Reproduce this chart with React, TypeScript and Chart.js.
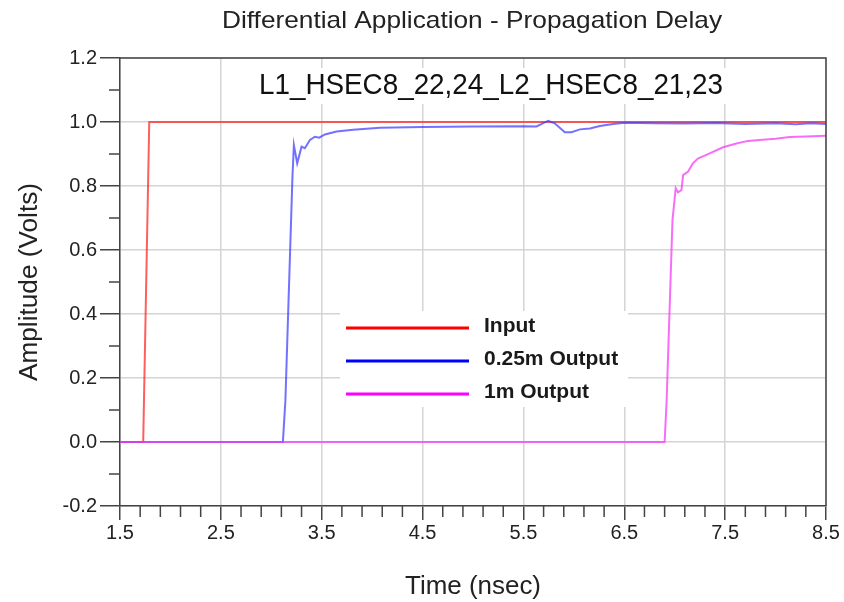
import React, { useEffect, useRef } from "react";
import { Chart, registerables } from "chart.js";

Chart.register(...registerables);

const titleText = "Differential Application - Propagation Delay";
const annotationText = "L1_HSEC8_22,24_L2_HSEC8_21,23";
const xAxisTitle = "Time (nsec)";
const yAxisTitle = "Amplitude (Volts)";

const seriesLabels = ["Input", "0.25m Output", "1m Output"];
const seriesColors = ["#ff0000", "#0000ff", "#ff00ff"];
const seriesLineColors = ["rgba(255,40,40,0.75)", "rgba(60,60,255,0.72)", "rgba(245,60,245,0.75)"];

const xTicks = [1.5, 2.5, 3.5, 4.5, 5.5, 6.5, 7.5, 8.5];
const yTicks = [-0.2, 0.0, 0.2, 0.4, 0.6, 0.8, 1.0, 1.2];

const inputTime = [1.5, 1.73, 1.79, 8.5];
const inputVolts = [0, 0, 1.0, 1.0];

const out025Time = [
  1.5, 3.115, 3.14, 3.21, 3.224, 3.257, 3.3, 3.333, 3.383, 3.432, 3.475, 3.532,
  3.647, 3.812, 4.077, 4.5, 5.0, 5.5, 5.63, 5.745, 5.81, 5.91, 5.977, 6.06, 6.16,
  6.257, 6.39, 6.505, 6.8, 7.1, 7.4, 7.7, 8.0, 8.2, 8.35, 8.5,
];
const out025Volts = [
  0, 0, 0.13, 0.83, 0.928, 0.871, 0.923, 0.918, 0.944, 0.954, 0.951, 0.961,
  0.97, 0.976, 0.982, 0.984, 0.986, 0.987, 0.986, 1.004, 0.996, 0.968, 0.968, 0.977, 0.98,
  0.9875, 0.994, 0.998, 0.996, 0.995, 0.997, 0.994, 0.996, 0.993, 0.996, 0.994,
];

const out1mTime = [
  1.5, 6.9, 6.92, 6.978, 7.01, 7.033, 7.067, 7.083, 7.133, 7.18, 7.23, 7.347,
  7.479, 7.612, 7.727, 7.84, 8.0, 8.14, 8.3, 8.5,
];
const out1mVolts = [
  0, 0, 0.13, 0.694, 0.793, 0.78, 0.7875, 0.834, 0.845, 0.871, 0.886, 0.902,
  0.921, 0.933, 0.941, 0.944, 0.948, 0.953, 0.955, 0.957,
];

const FONT = "'Liberation Sans', Arial, Helvetica, sans-serif";

function toPoints(xs: number[], ys: number[]) {
  return xs.map((x, i) => ({ x, y: ys[i] }));
}

function drawStretchedText(
  ctx: CanvasRenderingContext2D,
  text: string,
  cx: number,
  cy: number,
  font: string,
  targetWidth: number,
  color: string
) {
  ctx.save();
  ctx.font = font;
  const w = ctx.measureText(text).width;
  const sx = targetWidth / w;
  ctx.translate(cx, cy);
  ctx.scale(sx, 1);
  ctx.fillStyle = color;
  ctx.textAlign = "center";
  ctx.textBaseline = "middle";
  ctx.fillText(text, 0, 0);
  ctx.restore();
}

const decorPlugin = {
  id: "decor",
  afterDatasetsDraw(chart: any) {
    const ctx: CanvasRenderingContext2D = chart.ctx;
    // annotation box
    ctx.save();
    ctx.fillStyle = "#ffffff";
    ctx.fillRect(254, 68, 478, 36);
    ctx.restore();
    drawStretchedText(ctx, annotationText, 491, 86, `30px ${FONT}`, 464, "#111");

    // legend box
    ctx.save();
    ctx.fillStyle = "#ffffff";
    ctx.fillRect(340, 311, 288, 96);
    const rows = [328, 361, 394];
    chart.data.datasets.forEach((ds: any, i: number) => {
      ctx.strokeStyle = seriesColors[i];
      ctx.lineWidth = 3;
      ctx.beginPath();
      ctx.moveTo(346, rows[i]);
      ctx.lineTo(469, rows[i]);
      ctx.stroke();
      ctx.fillStyle = "#1a1a1a";
      ctx.font = `bold 21px ${FONT}`;
      ctx.textAlign = "left";
      ctx.textBaseline = "middle";
      ctx.fillText(ds.label, 484, rows[i] - 2);
    });
    ctx.restore();
  },
  afterDraw(chart: any) {
    const ctx: CanvasRenderingContext2D = chart.ctx;
    const { left, right, top, bottom } = chart.chartArea;
    const xs = chart.scales.x;
    const ys = chart.scales.y;
    ctx.save();
    ctx.strokeStyle = "#444";
    ctx.lineWidth = 1.5;
    // frame top & right
    ctx.beginPath();
    ctx.moveTo(left, top);
    ctx.lineTo(right, top);
    ctx.lineTo(right, bottom);
    ctx.stroke();
    // minor x ticks
    ctx.beginPath();
    for (let i = 0; i < xTicks.length - 1; i++) {
      const step = (xTicks[i + 1] - xTicks[i]) / 5;
      for (let k = 1; k < 5; k++) {
        const px = xs.getPixelForValue(xTicks[i] + k * step);
        ctx.moveTo(px, bottom);
        ctx.lineTo(px, bottom + 11);
      }
    }
    // minor y ticks
    for (let i = 0; i < yTicks.length - 1; i++) {
      const py = ys.getPixelForValue((yTicks[i] + yTicks[i + 1]) / 2);
      ctx.moveTo(left - 11, py);
      ctx.lineTo(left, py);
    }
    ctx.stroke();
    ctx.restore();

    // titles
    drawStretchedText(ctx, titleText, 472, 21, `24px ${FONT}`, 500, "#222");
    drawStretchedText(ctx, xAxisTitle, (left + right) / 2, 587, `25px ${FONT}`, 136, "#222");
    ctx.save();
    ctx.translate(30, (top + bottom) / 2);
    ctx.rotate(-Math.PI / 2);
    drawStretchedText(ctx, yAxisTitle, 0, 0, `25px ${FONT}`, 198, "#222");
    ctx.restore();
  },
};

export default function App() {
  const canvasRef = useRef<HTMLCanvasElement | null>(null);

  useEffect(() => {
    if (!canvasRef.current) return;
    const chart = new Chart(canvasRef.current, {
      type: "line",
      data: {
        datasets: [
          {
            label: seriesLabels[0],
            data: toPoints(inputTime, inputVolts),
            borderColor: seriesLineColors[0],
            borderWidth: 2,
            pointRadius: 0,
            tension: 0,
            order: 3,
          },
          {
            label: seriesLabels[1],
            data: toPoints(out025Time, out025Volts),
            borderColor: seriesLineColors[1],
            borderWidth: 2,
            pointRadius: 0,
            tension: 0,
            order: 2,
          },
          {
            label: seriesLabels[2],
            data: toPoints(out1mTime, out1mVolts),
            borderColor: seriesLineColors[2],
            borderWidth: 2,
            pointRadius: 0,
            tension: 0,
            order: 1,
          },
        ],
      },
      options: {
        animation: false,
        responsive: false,
        maintainAspectRatio: false,
        devicePixelRatio: 1,
        layout: { padding: { left: 0, right: 18, top: 58, bottom: 0 } },
        plugins: {
          legend: { display: false },
          tooltip: { enabled: false },
          title: { display: false },
        },
        scales: {
          x: {
            type: "linear",
            min: 1.5,
            max: 8.5,
            afterBuildTicks: (s: any) => {
              s.ticks = xTicks.map((v) => ({ value: v }));
            },
            afterFit: (s: any) => {
              s.height = 96;
            },
            grid: {
              color: "#d4d4d4",
              lineWidth: 1.5,
              tickLength: 14,
              tickColor: "#444",
              tickWidth: 1.5,
            },
            border: { color: "#444", width: 1.5 },
            ticks: {
              font: { family: FONT, size: 20 },
              color: "#222",
              padding: 1,
              maxRotation: 0,
              autoSkip: false,
              callback: (v: any) => Number(v).toFixed(1),
            },
          },
          y: {
            type: "linear",
            min: -0.2,
            max: 1.2,
            afterBuildTicks: (s: any) => {
              s.ticks = yTicks.map((v) => ({ value: v }));
            },
            afterFit: (s: any) => {
              s.width = 120;
            },
            grid: {
              color: "#d4d4d4",
              lineWidth: 1.5,
              tickLength: 20,
              tickColor: "#444",
              tickWidth: 1.5,
            },
            border: { color: "#444", width: 1.5 },
            ticks: {
              font: { family: FONT, size: 20 },
              color: "#222",
              padding: 3,
              autoSkip: false,
              callback: (v: any) => Number(v).toFixed(1),
            },
          },
        },
      },
      plugins: [decorPlugin],
    });
    return () => chart.destroy();
  }, []);

  return (
    <div style={{ position: "fixed", left: 0, top: 0, width: 844, height: 602, background: "#fff" }}>
      <canvas ref={canvasRef} width={844} height={602} style={{ display: "block" }} />
    </div>
  );
}
